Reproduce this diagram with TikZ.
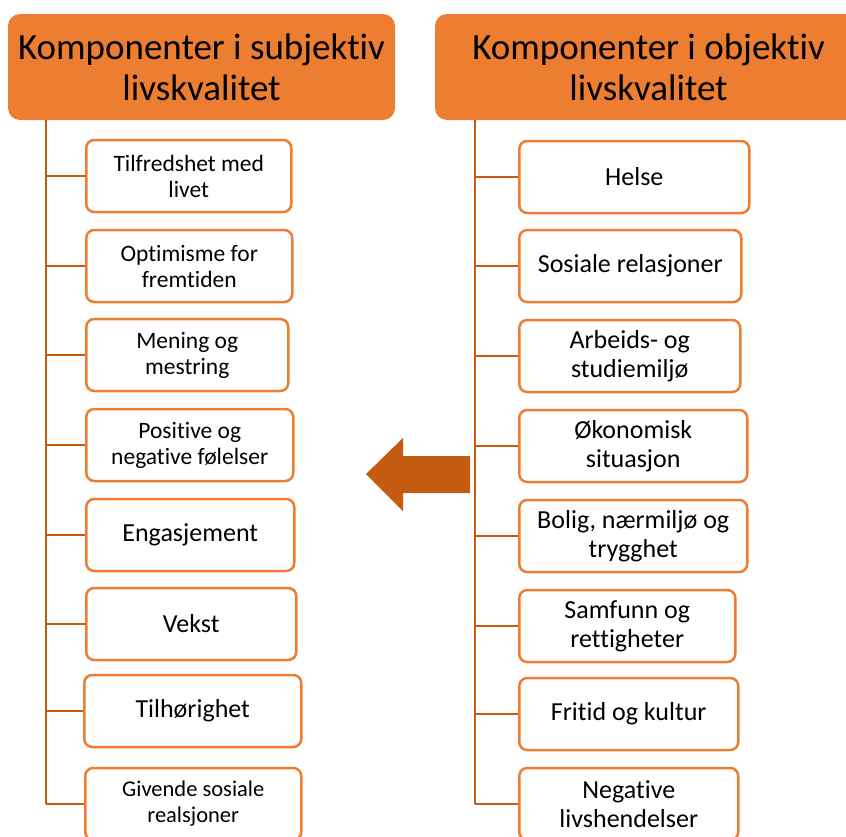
\documentclass[tikz,border=0pt]{standalone}
\usepackage{fontspec}
\setmainfont{Carlito}[Ligatures=NoCommon]
\definecolor{hdorange}{HTML}{ED7D31}
\definecolor{lnbrown}{HTML}{C55A11}
\tikzset{
header/.style={rectangle,rounded corners=12pt,fill=hdorange,minimum height=106pt,
  align=center,inner sep=0pt,font=\fontsize{37}{41}\selectfont},
item/.style={rectangle,rounded corners=8pt,draw=hdorange,line width=2.5pt,fill=white,
  minimum height=72pt,anchor=west,align=center,inner sep=0pt,
  font=\fontsize{26}{29}\selectfont},
smaller/.style={font=\fontsize{23.5}{26}\selectfont},
smallest/.style={font=\fontsize{22.5}{26}\selectfont},
branch/.style={draw=lnbrown,line width=2.5pt},
}

\begin{document}
\begin{tikzpicture}[x=1pt,y=-1pt]
\useasboundingbox (0,0) rectangle (846,836);
\clip (0,0) rectangle (846,836);

% headers
\node[header,minimum width=387pt] (lhead) at (201.5,67) {Komponenter i subjektiv\\livskvalitet};
\node[header,minimum width=427pt] (rhead) at (648.5,67) {Komponenter i objektiv\\livskvalitet};

% subjective components
\node[item,smaller,minimum width=205pt] (l1) at (85,176) {Tilfredshet med\\livet};
\node[item,smaller,minimum width=206pt] (l2) at (85,266) {Optimisme for\\fremtiden};
\node[item,smaller,minimum width=202pt] (l3) at (85,355) {Mening og\\mestring};
\node[item,smaller,minimum width=207pt] (l4) at (85,445) {Positive og\\negative følelser};
\node[item,minimum width=208pt] (l5) at (85,535) {Engasjement};
\node[item,minimum width=210pt] (l6) at (85,624) {Vekst};
\node[item,minimum width=217pt] (l7) at (83,711) {Tilhørighet};
\node[item,smallest,minimum width=216pt] (l8) at (84,804) {Givende sosiale\\realsjoner};

% objective components
\node[item,minimum width=230pt] (r1) at (518,177) {Helse};
\node[item,minimum width=222pt] (r2) at (518,266) {Sosiale relasjoner};
\node[item,minimum width=221pt] (r3) at (518,356) {Arbeids- og\\studiemiljø};
\node[item,minimum width=228pt] (r4) at (518,446) {Økonomisk\\situasjon};
\node[item,minimum width=228pt] (r5) at (518,536) {Bolig, nærmiljø og\\trygghet};
\node[item,minimum width=216pt] (r6) at (518,626) {Samfunn og\\rettigheter};
\node[item,minimum width=219pt] (r7) at (518,714) {Fritid og kultur};
\node[item,minimum width=219pt] (r8) at (518,804) {Negative\\livshendelser};

% trunks
\coordinate (ltop) at (46,120);
\coordinate (rtop) at (475,120);
\draw[branch] (ltop) -- (ltop |- l8.west);
\draw[branch] (rtop) -- (rtop |- r8.west);

% branches
\draw[branch] (ltop |- l1.west) -- (l1.west);
\draw[branch] (ltop |- l2.west) -- (l2.west);
\draw[branch] (ltop |- l3.west) -- (l3.west);
\draw[branch] (ltop |- l4.west) -- (l4.west);
\draw[branch] (ltop |- l5.west) -- (l5.west);
\draw[branch] (ltop |- l6.west) -- (l6.west);
\draw[branch] (ltop |- l7.west) -- (l7.west);
\draw[branch] (ltop |- l8.west) -- (l8.west);
\draw[branch] (rtop |- r1.west) -- (r1.west);
\draw[branch] (rtop |- r2.west) -- (r2.west);
\draw[branch] (rtop |- r3.west) -- (r3.west);
\draw[branch] (rtop |- r4.west) -- (r4.west);
\draw[branch] (rtop |- r5.west) -- (r5.west);
\draw[branch] (rtop |- r6.west) -- (r6.west);
\draw[branch] (rtop |- r7.west) -- (r7.west);
\draw[branch] (rtop |- r8.west) -- (r8.west);

% big arrow
\fill[lnbrown] (470,456) -- (403,456) -- (403,438) -- (366,474)
  -- (403,511) -- (403,493) -- (470,493) -- cycle;
\end{tikzpicture}
\end{document}
